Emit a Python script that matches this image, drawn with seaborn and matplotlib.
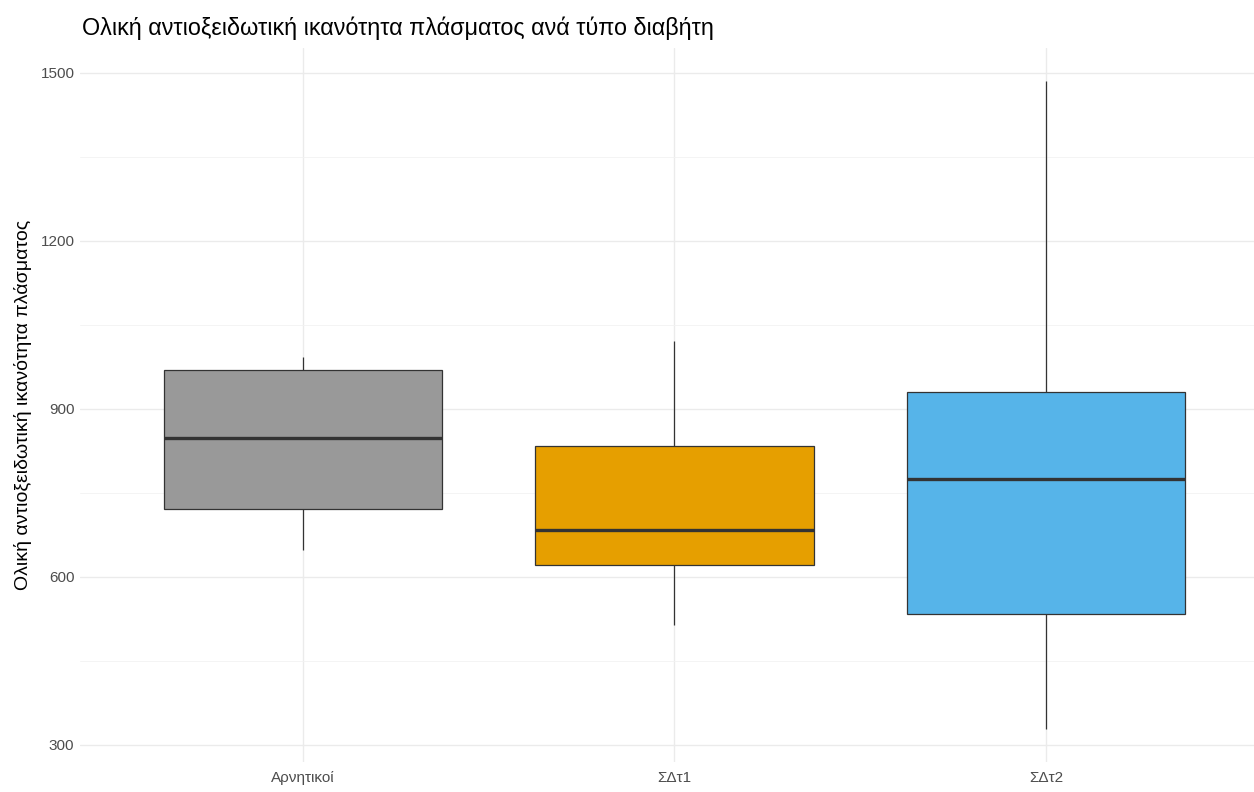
import numpy as np
import pandas as pd
import matplotlib
matplotlib.use("Agg")
import matplotlib.pyplot as plt
import seaborn as sns

# values (min, Q1, median, Q3, max per group)
groups = ["Αρνητικοί", "ΣΔτ1", "ΣΔτ2"]
arnitikoi = [648, 721, 848, 970, 992]
sdt1 = [514, 622, 684, 834, 1022]
sdt2 = [328, 534, 775, 931, 1486]
colors = ["#999999", "#E69F00", "#56B4E9"]

title = "Ολική αντιοξειδωτική ικανότητα πλάσματος ανά τύπο διαβήτη"
ylabel = "Ολική αντιοξειδωτική ικανότητα πλάσματος"

df = pd.DataFrame({
    "group": [groups[0]] * len(arnitikoi) + [groups[1]] * len(sdt1) + [groups[2]] * len(sdt2),
    "value": arnitikoi + sdt1 + sdt2,
})

sns.set_theme(style="white")
plt.rcParams["font.family"] = ["Liberation Sans", "DejaVu Sans"]

fig = plt.figure(figsize=(12.54, 7.92), dpi=100)
ax = fig.add_axes([80 / 1254, (792 - 761.7) / 792, 1 - 80 / 1254, (761.7 - 48.4) / 792])

sns.boxplot(data=df, x="group", y="value", hue="group", order=groups,
            palette=colors, legend=False, width=0.75, linecolor="#333333",
            linewidth=0.9, showcaps=False, whis=1.5, saturation=1, ax=ax,
            medianprops={"linewidth": 2.4, "color": "#333333"},
            boxprops={"edgecolor": "#333333"}, zorder=3)

# ggplot-like expansion
lo, hi = df["value"].min(), df["value"].max()
pad = (hi - lo) * 0.05
ax.set_ylim(lo - pad, hi + pad)
ax.set_xlim(-0.6, -0.6 + 1174 / 371.5)

ax.set_yticks([300, 600, 900, 1200, 1500])
ax.set_yticks([450, 750, 1050, 1350], minor=True)
ax.grid(True, which="major", color="#EBEBEB", linewidth=1.0, zorder=0)
ax.grid(True, which="minor", axis="y", color="#F2F2F2", linewidth=0.6, zorder=0)
ax.set_axisbelow(True)
for s in ax.spines.values():
    s.set_visible(False)

ax.tick_params(axis="both", which="both", length=0, labelsize=11, colors="#4D4D4D")
ax.tick_params(axis="y", pad=4)
ax.tick_params(axis="x", pad=7)
ax.set_xlabel("")
ax.set_ylabel(ylabel, fontsize=14, color="black", labelpad=6)
fig.text(82 / 1254, 1 - 28 / 792, title, fontsize=16.8, va="center", ha="left", color="black")

fig.savefig("out.png", dpi=100)
